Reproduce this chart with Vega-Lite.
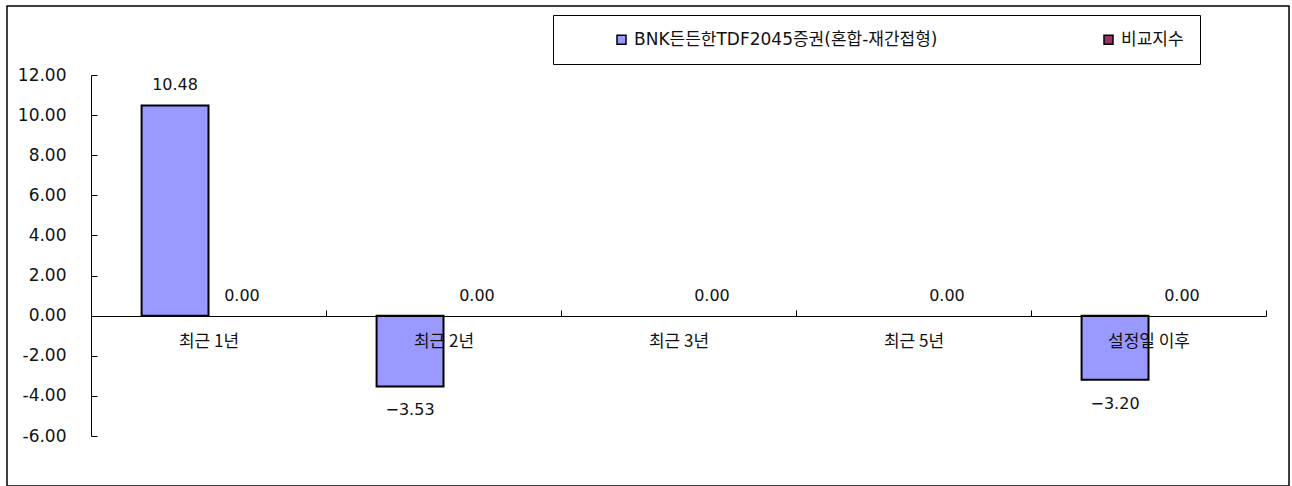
{
  "$schema": "https://vega.github.io/schema/vega-lite/v6.json",
  "width": 1282,
  "height": 480,
  "autosize": {"type": "none"},
  "padding": {"left": 7, "top": 6, "right": 3, "bottom": 0},
  "background": "white",
  "config": {
    "view": {"stroke": "#000", "strokeWidth": 1.5},
    "font": "DejaVu Sans, Noto Sans CJK KR",
    "text": {"color": "#111"}
  },
  "data": {
    "values": [
      {"period": "최근 1년", "series": "BNK든든한TDF2045증권(혼합-재간접형)", "value": 10.48},
      {"period": "최근 1년", "series": "비교지수", "value": 0.0},
      {"period": "최근 2년", "series": "BNK든든한TDF2045증권(혼합-재간접형)", "value": -3.53},
      {"period": "최근 2년", "series": "비교지수", "value": 0.0},
      {"period": "최근 3년", "series": "BNK든든한TDF2045증권(혼합-재간접형)", "value": null},
      {"period": "최근 3년", "series": "비교지수", "value": 0.0},
      {"period": "최근 5년", "series": "BNK든든한TDF2045증권(혼합-재간접형)", "value": null},
      {"period": "최근 5년", "series": "비교지수", "value": 0.0},
      {"period": "설정일 이후", "series": "BNK든든한TDF2045증권(혼합-재간접형)", "value": -3.2},
      {"period": "설정일 이후", "series": "비교지수", "value": 0.0}
    ]
  },
  "encoding": {
    "x": {
      "field": "period",
      "type": "nominal",
      "sort": ["최근 1년", "최근 2년", "최근 3년", "최근 5년", "설정일 이후"],
      "scale": {"range": [84, 1259], "paddingInner": 0, "paddingOuter": 0},
      "axis": {
        "title": null,
        "orient": "bottom",
        "offset": -170,
        "zindex": 1,
        "tickBand": "extent",
        "tickSize": -6,
        "tickColor": "#000",
        "domainColor": "#000",
        "labelAngle": 0,
        "labelPadding": 23,
        "labelFontSize": 17,
        "labelFont": "Noto Sans CJK KR",
        "labelColor": "#111",
        "grid": false
      }
    },
    "xOffset": {
      "field": "series",
      "type": "nominal",
      "sort": ["BNK든든한TDF2045증권(혼합-재간접형)", "비교지수"],
      "scale": {"paddingInner": 0, "paddingOuter": 0.756}
    },
    "y": {
      "field": "value",
      "type": "quantitative",
      "scale": {"domain": [-6, 12], "range": [430, 69], "nice": false, "zero": false},
      "axis": {
        "title": null,
        "offset": -84,
        "values": [-6, -4, -2, 0, 2, 4, 6, 8, 10, 12],
        "format": ".2f",
        "labelExpr": "replace(datum.label, '\u2212', '-')",
        "tickSize": -6,
        "tickColor": "#000",
        "domainColor": "#000",
        "labelPadding": 31,
        "labelFontSize": 17,
        "labelColor": "#111",
        "labelFlush": false,
        "labelOverlap": false,
        "grid": false
      }
    }
  },
  "layer": [
    {
      "mark": {"type": "bar", "stroke": "#000"},
      "encoding": {
        "color": {
          "field": "series",
          "type": "nominal",
          "scale": {
            "domain": ["BNK든든한TDF2045증권(혼합-재간접형)", "비교지수"],
            "range": ["#9999FF", "#993366"]
          },
          "legend": {
            "title": null,
            "orient": "none",
            "legendX": 546,
            "legendY": 9,
            "direction": "horizontal",
            "strokeColor": "#000",
            "fillColor": "#fff",
            "padding": 16,
            "symbolType": "square",
            "symbolSize": 81,
            "symbolStrokeColor": "#000",
            "symbolStrokeWidth": 1.5,
            "symbolOffset": 44,
            "labelOffset": 4,
            "labelFontSize": 17,
            "labelColor": "#111",
            "labelLimit": 0,
            "columnPadding": 118
          }
        },
        "strokeWidth": {"condition": {"test": "datum.value == 0", "value": 0}, "value": 2}
      }
    },
    {
      "transform": [{"filter": "isValid(datum.value) && datum.value >= 0"}],
      "mark": {"type": "text", "baseline": "alphabetic", "dy": -15, "fontSize": 16},
      "encoding": {"text": {"field": "value", "type": "quantitative", "format": ".2f"}}
    },
    {
      "transform": [{"filter": "isValid(datum.value) && datum.value < 0"}],
      "mark": {"type": "text", "baseline": "top", "dy": 16, "fontSize": 16},
      "encoding": {"text": {"field": "value", "type": "quantitative", "format": ".2f"}}
    }
  ]
}
